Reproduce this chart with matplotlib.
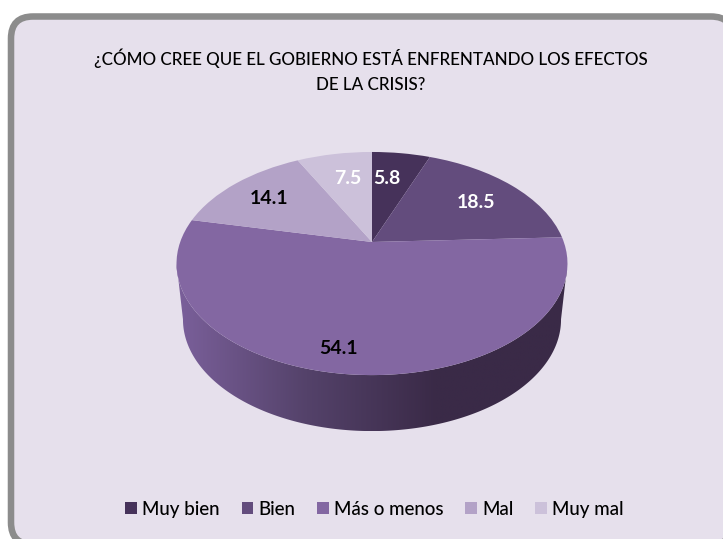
import numpy as np
import matplotlib
matplotlib.use("Agg")
import matplotlib.pyplot as plt
from matplotlib.colors import LinearSegmentedColormap
from matplotlib.patches import FancyBboxPatch, Polygon
from matplotlib.transforms import Transform

plt.rcParams['font.family'] = ['Lato', 'DejaVu Sans']

categorias = ["Muy bien", "Bien", "Más o menos", "Mal", "Muy mal"]
valores = [5.8, 18.5, 54.1, 14.1, 7.5]
colores = ["#46325a", "#634c7d", "#8367a2", "#b3a2c7", "#ccc1da"]
color_etiqueta = ["white", "white", "black", "black", "white"]
pos_etiqueta = [(387, 179), (476, 202), (339, 349), (269, 199), (348, 179)]
titulo = "¿CÓMO CREE QUE EL GOBIERNO ESTÁ ENFRENTANDO LOS EFECTOS\nDE LA CRISIS?"

# centro de la torta y parametros de la perspectiva, en pixeles
CX, CY = 372, 242
A, B, K = 191.8, 107.4, 0.193
ALTO, ESCALA = 56, 0.967


class Perspectiva(Transform):
    input_dims = 2
    output_dims = 2

    def transform_non_affine(self, xy):
        xy = np.asarray(xy)
        w = 1 + K * xy[:, 1]
        return np.column_stack([CX + A * xy[:, 0] / w, CY - B * xy[:, 1] / w])


fig = plt.figure(figsize=(7.23, 5.39), dpi=100, facecolor="white")
ax = fig.add_axes([0, 0, 1, 1])

wedges, _ = ax.pie(valores, colors=colores, startangle=90, counterclock=False,
                   wedgeprops=dict(linewidth=0))
ax.set_aspect("auto")
ax.set_xlim(0, 723)
ax.set_ylim(539, 0)
ax.axis("off")

# marco redondeado
fondo = FancyBboxPatch((11, 16.5), 722, 528, boxstyle="round,pad=0,rounding_size=22",
                       facecolor="#e6e0ec", edgecolor="#8c8c8c", linewidth=4.7, zorder=0)
ax.add_patch(fondo)

persp = Perspectiva()
for w in wedges:
    w.set_transform(persp + ax.transData)
    w.set_zorder(3)

# pared lateral de la torta
t = np.linspace(0, 2 * np.pi, 721)
borde = persp.transform_non_affine(np.column_stack([np.sin(t), np.cos(t)]))
i_der, i_izq = borde[:, 0].argmax(), borde[:, 0].argmin()
arco = borde[i_der:i_izq + 1]
abajo = np.column_stack([CX + (arco[:, 0] - CX) * ESCALA, arco[:, 1] + ALTO])
pared = Polygon(np.vstack([arco, abajo[::-1]]), closed=True, transform=ax.transData,
                facecolor="none", edgecolor="none")
ax.add_patch(pared)
cmap = LinearSegmentedColormap.from_list("pared", ["#7b609b", "#54426a", "#3a2a47", "#3a2a47"])
img = ax.imshow(np.linspace(0, 1, 256).reshape(1, -1), cmap=cmap, aspect="auto",
                extent=(176, 567, 431, 240), zorder=2)
img.set_clip_path(pared)
ax.set_xlim(0, 723)
ax.set_ylim(539, 0)

for v, c, (x, y) in zip(valores, color_etiqueta, pos_etiqueta):
    ax.text(x, y, f"{v}", color=c, fontsize=14, fontweight="bold", ha="center", va="center", zorder=4)

ax.text(370.5, 70.5, titulo, fontsize=12.25, fontweight="medium", ha="center", va="center",
        color="black", linespacing=1.7, zorder=4)

ax.legend(wedges, categorias, ncol=5, loc="center", bbox_to_anchor=(374.5 / 723, 1 - 509.5 / 539),
          frameon=False, fontsize=13.5, handlelength=0.62, handleheight=0.62,
          handletextpad=0.27, columnspacing=1.17, labelcolor="black",
          prop=dict(family="Lato", weight="medium", size=13.5))

fig.savefig("out.png", dpi=100)
